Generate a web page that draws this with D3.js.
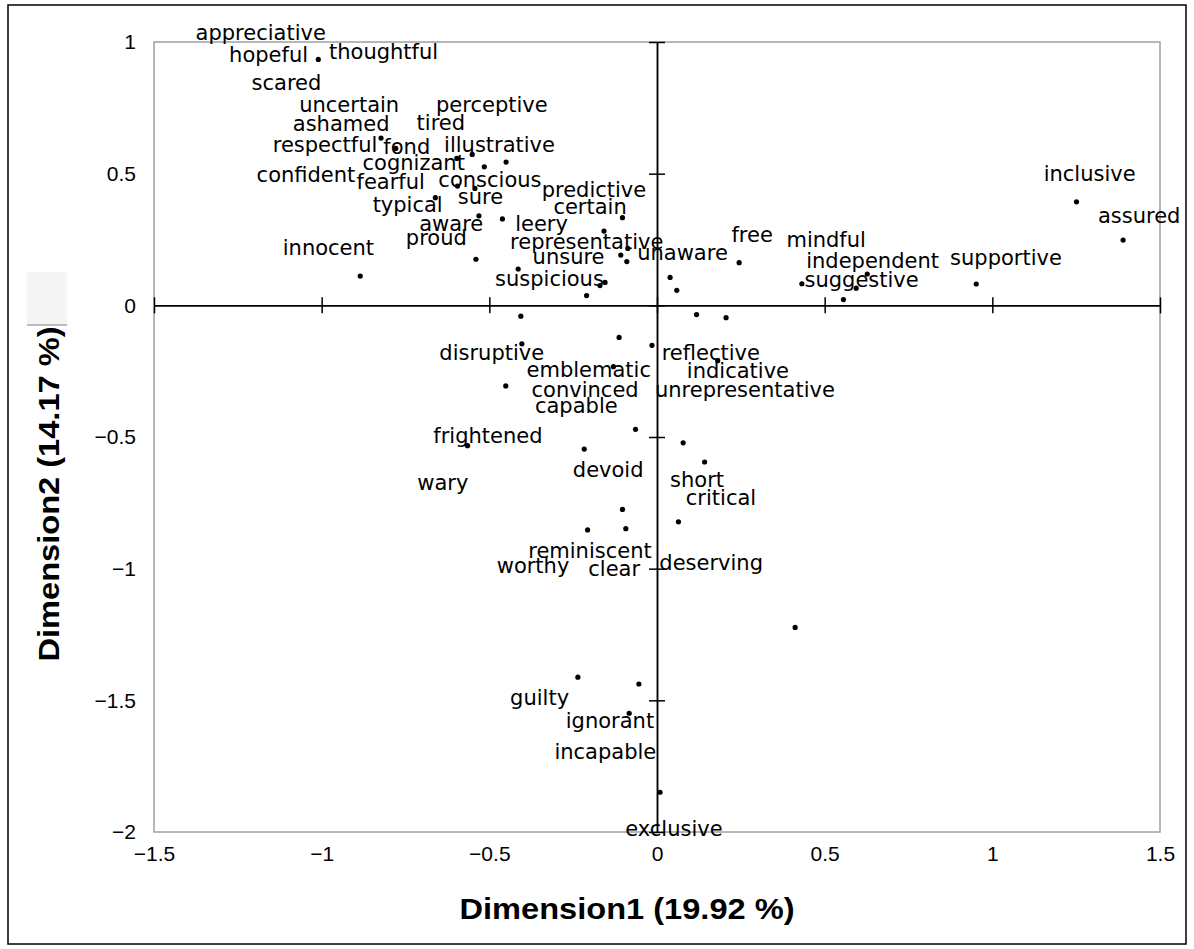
<!DOCTYPE html>
<html>
<head>
<meta charset="utf-8">
<script src="https://cdn.jsdelivr.net/npm/d3@7"></script>
<style>
body { margin: 0; background: #fff; }
</style>
</head>
<body>
<svg width="1194" height="949"></svg>
<script>
// point coordinates (dimension1, dimension2)
var dotX = [-1.010, -0.823, -0.779, -0.551, -0.515, -0.450, -0.597, -0.595, -0.543, -0.661,
  -0.531, -0.461, -0.540, -0.885, -0.414, -0.103, -0.158, -0.087, -0.108, -0.090,
  -0.170, -0.155, -0.210, 0.039, 0.059, 0.245, 0.432, 0.627, 0.594, 0.556,
  0.952, 1.251, 1.390, 0.118, 0.206, -0.406, -0.113, -0.403, -0.015, 0.181,
  -0.130, -0.451, -0.064, 0.078, -0.565, -0.217, 0.142, -0.103, 0.064, -0.207,
  -0.093, 0.412, -0.236, -0.054, -0.083, 0.009]
var dotY = [0.934, 0.635, 0.596, 0.573, 0.526, 0.544, 0.558, 0.453, 0.444, 0.409,
  0.340, 0.328, 0.175, 0.111, 0.138, 0.333, 0.282, 0.216, 0.191, 0.166,
  0.075, 0.087, 0.037, 0.106, 0.057, 0.162, 0.082, 0.119, 0.065, 0.022,
  0.081, 0.393, 0.248, -0.035, -0.047, -0.041, -0.122, -0.146, -0.152, -0.210,
  -0.233, -0.306, -0.471, -0.522, -0.533, -0.546, -0.595, -0.775, -0.822, -0.853,
  -0.848, -1.223, -1.412, -1.438, -1.549, -1.849]

// word labels, placed by their text start / baseline
var labelText = ['appreciative', 'hopeful', 'thoughtful', 'scared', 'uncertain', 'perceptive',
  'ashamed', 'tired', 'respectful', 'fond', 'illustrative', 'cognizant', 'confident',
  'fearful', 'conscious', 'predictive', 'sure', 'typical', 'certain', 'aware', 'leery',
  'proud', 'representative', 'innocent', 'unsure', 'unaware', 'suspicious', 'inclusive',
  'assured', 'free', 'mindful', 'independent', 'supportive', 'suggestive', 'disruptive',
  'reflective', 'emblematic', 'indicative', 'convinced', 'unrepresentative', 'capable',
  'frightened', 'devoid', 'short', 'wary', 'critical', 'reminiscent', 'worthy', 'clear',
  'deserving', 'guilty', 'ignorant', 'incapable', 'exclusive']
var labelX = [-1.376, -1.276, -0.978, -1.209, -1.067, -0.659, -1.086, -0.717, -1.146, -0.816,
  -0.635, -0.878, -1.194, -0.896, -0.652, -0.344, -0.594, -0.848, -0.309, -0.709,
  -0.423, -0.749, -0.438, -1.116, -0.371, -0.059, -0.483, 1.153, 1.315, 0.222,
  0.386, 0.445, 0.874, 0.440, -0.649, 0.014, -0.389, 0.089, -0.374, -0.006,
  -0.364, -0.667, -0.251, 0.039, -0.715, 0.086, -0.384, -0.478, -0.205, 0.007,
  -0.438, -0.272, -0.306, -0.095]
var labelY = [1.007, 0.925, 0.934, 0.818, 0.735, 0.735, 0.662, 0.666, 0.583, 0.575,
  0.583, 0.514, 0.469, 0.441, 0.448, 0.412, 0.385, 0.355, 0.347, 0.282,
  0.282, 0.229, 0.214, 0.191, 0.156, 0.172, 0.073, 0.473, 0.314, 0.242,
  0.223, 0.141, 0.153, 0.071, -0.208, -0.208, -0.271, -0.277, -0.347, -0.347,
  -0.410, -0.524, -0.651, -0.689, -0.701, -0.758, -0.961, -1.018, -1.028, -1.005,
  -1.518, -1.606, -1.724, -2.014]

var xTicks = [-1.5, -1, -0.5, 0, 0.5, 1, 1.5]
var yTicks = [-2, -1.5, -1, -0.5, 0, 0.5, 1]
var xTitle = 'Dimension1 (19.92 %)'
var yTitle = 'Dimension2 (14.17 %)'

var svg = d3.select('svg')
var x = d3.scaleLinear().domain([-1.5, 1.5]).range([154, 1160])
var y = d3.scaleLinear().domain([-2, 1]).range([832, 42])
var fmt = d3.format('')

// outer frame
svg.append('rect')
  .attr('x', 8).attr('y', 5).attr('width', 1178).attr('height', 939)
  .attr('fill', 'none').attr('stroke', '#000').attr('stroke-width', 1.5)

// faint box left over above the y title
svg.append('rect')
  .attr('x', 27).attr('y', 272).attr('width', 40).attr('height', 54)
  .attr('fill', '#f5f5f5')
svg.append('line')
  .attr('x1', 27).attr('x2', 67).attr('y1', 325).attr('y2', 325)
  .attr('stroke', '#bbb').attr('stroke-width', 2)

// plot border
svg.append('rect')
  .attr('x', x(-1.5)).attr('y', y(1))
  .attr('width', x(1.5) - x(-1.5)).attr('height', y(-2) - y(1))
  .attr('fill', 'none').attr('stroke', '#a0a0a0').attr('stroke-width', 1.5)

// zero lines with crossing ticks
function zeroAxis(axis, tx, ty) {
  var g = svg.append('g')
    .attr('transform', 'translate(' + tx + ',' + ty + ')')
    .call(axis.tickSize(8).tickSizeOuter(0).tickFormat(''))
  g.selectAll('path, line').attr('stroke', '#000').attr('stroke-width', 1.5)
}
zeroAxis(d3.axisBottom(x).tickValues(xTicks), 0, y(0))
zeroAxis(d3.axisTop(x).tickValues(xTicks), 0, y(0))
zeroAxis(d3.axisLeft(y).tickValues(yTicks), x(0), 0)
zeroAxis(d3.axisRight(y).tickValues(yTicks), x(0), 0)

// tick labels outside the plot
var gx = svg.append('g')
  .attr('transform', 'translate(0,' + y(-2) + ')')
  .call(d3.axisBottom(x).tickValues(xTicks).tickSize(0).tickPadding(14).tickFormat(fmt))
var gy = svg.append('g')
  .attr('transform', 'translate(' + x(-1.5) + ',0)')
  .call(d3.axisLeft(y).tickValues(yTicks).tickSize(0).tickPadding(18).tickFormat(fmt))
;[gx, gy].forEach(function(g) {
  g.select('.domain').remove()
  g.attr('font-family', '"Liberation Sans", Arial, sans-serif').attr('font-size', 21)
  g.selectAll('text').attr('fill', '#000')
})

// points
svg.append('g')
  .selectAll('circle')
  .data(dotX)
  .enter()
  .append('circle')
  .attr('cx', function(d) { return x(d) })
  .attr('cy', function(d, i) { return y(dotY[i]) })
  .attr('r', 2.6)
  .attr('fill', '#000')

// word labels
svg.append('g')
  .attr('font-family', '"DejaVu Sans", sans-serif')
  .attr('font-size', 21)
  .selectAll('text')
  .data(labelText)
  .enter()
  .append('text')
  .attr('x', function(d, i) { return x(labelX[i]) })
  .attr('y', function(d, i) { return y(labelY[i]) })
  .attr('fill', '#000')
  .text(function(d) { return d })

// axis titles
svg.append('text')
  .attr('x', 627).attr('y', 919)
  .attr('text-anchor', 'middle')
  .attr('font-family', '"Liberation Sans", Arial, sans-serif')
  .attr('font-weight', 'bold')
  .attr('font-size', 30)
  .attr('textLength', 335)
  .attr('lengthAdjust', 'spacingAndGlyphs')
  .text(xTitle)

svg.append('text')
  .attr('transform', 'translate(59,494) rotate(-90)')
  .attr('text-anchor', 'middle')
  .attr('font-family', '"Liberation Sans", Arial, sans-serif')
  .attr('font-weight', 'bold')
  .attr('font-size', 30)
  .attr('textLength', 335)
  .attr('lengthAdjust', 'spacingAndGlyphs')
  .text(yTitle)
</script>
</body>
</html>
